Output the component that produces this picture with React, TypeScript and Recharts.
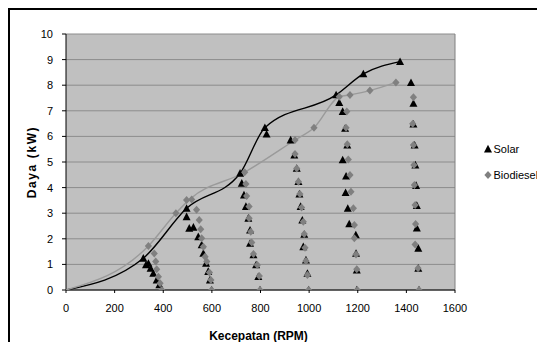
import React from 'react';
import {
  ScatterChart, Scatter, XAxis, YAxis, CartesianGrid, Legend, ReferenceLine,
} from 'recharts';

// ---------- data ----------
const xTicks = [0, 200, 400, 600, 800, 1000, 1200, 1400, 1600];
const yTicks = [0, 1, 2, 3, 4, 5, 6, 7, 8, 9, 10];
const seriesNames = ['Solar', 'Biodiesel'];

// Solar measured points (rpm, kW)
const solarRpm = [
  318, 329, 339, 348, 359, 373, 384, 394,
  496, 496, 507, 524, 544, 558, 565, 576, 585, 592, 599,
  716, 723, 732, 740, 750, 757, 757, 771, 782, 791, 798,
  818, 825, 924, 939, 949, 956, 960, 965, 972, 980, 976, 987, 993, 998,
  1111, 1124, 1138, 1148, 1157, 1138, 1152, 1150, 1159, 1165, 1192, 1193, 1196, 1196,
  1223, 1374,
  1419, 1429, 1429, 1434, 1437, 1440, 1443, 1443, 1449, 1449, 1452,
];
const solarKw = [
  1.24, 0.98, 1.04, 0.85, 0.65, 0.39, 0.2, 0,
  3.19, 2.86, 2.41, 2.45, 2.08, 1.76, 1.43, 1.04, 0.72, 0.39, 0,
  4.56, 4.17, 3.71, 3.26, 2.8, 2.34, 1.82, 1.37, 0.98, 0.52, 0,
  6.34, 6.09, 5.86, 5.27, 4.75, 4.23, 3.75, 3.26, 2.73, 2.17, 1.69, 1.17, 0.65, 0,
  7.62, 7.32, 6.97, 6.31, 5.66, 5.08, 4.45, 3.8, 3.19, 2.58, 2.15, 1.43, 0.78, 0,
  8.44, 8.92,
  8.1, 7.29, 6.48, 5.66, 4.88, 4.08, 3.3, 2.42, 1.63, 0.85, 0,
];

// Biodiesel measured points (rpm, kW)
const bioRpm = [
  339, 363, 369, 373, 380, 387, 394,
  452,
  496, 517, 537, 548, 554, 558, 565, 572, 579, 590, 596, 599,
  735, 740, 743, 753, 753, 760, 764, 771, 787, 795, 798,
  942, 942, 949, 956, 962, 969, 976, 980, 983, 987, 993, 998,
  1020, 1124, 1168, 1250, 1357,
  1155, 1152, 1157, 1161, 1168, 1172, 1182, 1186, 1186, 1193, 1196, 1198,
  1429, 1426, 1429, 1431, 1433, 1436, 1438, 1436, 1448, 1452,
];
const bioKw = [
  1.72, 1.43, 1.11, 0.81, 0.52, 0.26, 0,
  3.0,
  3.52, 3.54, 3.13, 2.73, 2.37, 2.02, 1.69, 1.3, 1.11, 0.68, 0.39, 0,
  4.6, 4.14, 3.67, 3.26, 2.8, 2.28, 1.86, 1.41, 0.98, 0.55, 0,
  5.86, 5.31, 4.75, 4.23, 3.75, 3.22, 2.67, 2.19, 1.65, 1.13, 0.59, 0,
  6.34, 7.55, 7.62, 7.79, 8.11,
  6.97, 6.34, 5.69, 5.1, 4.49, 3.84, 3.19, 2.54, 2.02, 1.39, 0.81, 0,
  7.53, 6.49, 5.66, 4.88, 4.1, 3.32, 2.58, 1.78, 0.85, 0,
];

// smoothed envelope curves (rpm, kW)
const solarCurveRpm = [0, 318, 496, 716, 818, 1111, 1223, 1374];
const solarCurveKw = [0, 1.24, 3.19, 4.56, 6.34, 7.62, 8.44, 8.92];
const bioCurveRpm = [0, 339, 452, 510, 735, 942, 1020, 1124, 1168, 1250, 1357];
const bioCurveKw = [0, 1.72, 3.0, 3.55, 4.6, 5.86, 6.34, 7.55, 7.62, 7.79, 8.11];

const zip = (xs: number[], ys: number[]) => xs.map((x, i) => ({ x, y: ys[i] }));
const solarData = zip(solarRpm, solarKw);
const bioData = zip(bioRpm, bioKw);
const solarCurve = zip(solarCurveRpm, solarCurveKw);
const bioCurve = zip(bioCurveRpm, bioCurveKw);

// ---------- styles ----------
const FONT = 'Arial, "Liberation Sans", sans-serif';
const BLACK = '#000000';
const GREY_MARK = '#808080';
const GREY_LINE = '#9a9a9a';

const Triangle = (props: any) => {
  const { cx, cy } = props;
  if (cx == null || cy == null) return <g />;
  return (
    <polygon
      points={`${cx},${cy - 4.2} ${cx + 4},${cy + 3.4} ${cx - 4},${cy + 3.4}`}
      fill={BLACK}
    />
  );
};

const Diamond = (props: any) => {
  const { cx, cy } = props;
  if (cx == null || cy == null) return <g />;
  return (
    <polygon
      points={`${cx},${cy - 4} ${cx + 3.6},${cy} ${cx},${cy + 4} ${cx - 3.6},${cy}`}
      fill={GREY_MARK}
    />
  );
};

const NoDot = () => <g />;

const LegendContent = () => (
  <svg width={60} height={44} style={{ display: 'block', overflow: 'visible' }}>
    <Triangle cx={6} cy={7} />
    <text x={11.5} y={11} fontSize={11} fontFamily={FONT} fill="#000">{seriesNames[0]}</text>
    <Diamond cx={6} cy={33} />
    <text x={11.5} y={37} fontSize={11} fontFamily={FONT} fill="#000">{seriesNames[1]}</text>
  </svg>
);

const YTitle = (props: any) => {
  const vb = props.viewBox || { x: 0, y: 0, width: 0, height: 0 };
  const cx = vb.x + 22;
  const cy = vb.y + vb.height / 2;
  return (
    <text
      x={cx}
      y={cy}
      transform={`rotate(-90, ${cx}, ${cy})`}
      textAnchor="middle"
      dominantBaseline="central"
      fontSize={12}
      fontWeight="bold"
      letterSpacing={1.6}
      fontFamily={FONT}
      fill="#000"
    >
      Daya (kW)
    </text>
  );
};

const XTitle = (props: any) => {
  const vb = props.viewBox || { x: 0, y: 0, width: 0, height: 0 };
  return (
    <text
      x={vb.x + vb.width / 2 - 2}
      y={vb.y + 50}
      textAnchor="middle"
      fontSize={12}
      fontWeight="bold"
      fontFamily={FONT}
      fill="#000"
    >
      Kecepatan (RPM)
    </text>
  );
};

export default function App() {
  return (
    <div
      style={{
        width: 535,
        height: 348,
        borderTop: '2px solid #000',
        borderLeft: '2px solid #000',
        background: '#fff',
        position: 'relative',
        marginBottom: -16,
      }}
    >
      <ScatterChart
        width={535}
        height={348}
        margin={{ top: 24, right: 90, bottom: 38, left: 0 }}
        style={{ fontFamily: FONT }}
      >
        <CartesianGrid
          vertical={false}
          stroke="#8c8c8c"
          strokeWidth={1}
          fill="#c0c0c0"
          fillOpacity={1}
        />
        <XAxis
          type="number"
          dataKey="x"
          domain={[0, 1600]}
          ticks={xTicks}
          interval={0}
          allowDataOverflow
          stroke={BLACK}
          tickSize={3}
          tickMargin={11}
          tick={{ fontSize: 11, fill: '#000', fontFamily: FONT }}
          height={30}
          label={{ content: XTitle }}
        />
        <YAxis
          type="number"
          dataKey="y"
          domain={[0, 10]}
          ticks={yTicks}
          interval={0}
          allowDataOverflow
          stroke={BLACK}
          tickSize={4}
          tickMargin={9}
          width={56}
          tick={{ fontSize: 11, fill: '#000', fontFamily: FONT }}
          label={{ content: YTitle }}
        />
        <ReferenceLine x={1600} stroke="#808080" strokeWidth={1} ifOverflow="extendDomain" />
        <Scatter
          name="solar-curve"
          data={solarCurve}
          line={{ stroke: BLACK, strokeWidth: 1.4 }}
          lineType="joint"
          lineJointType="monotoneX"
          shape={NoDot}
          legendType="none"
          isAnimationActive={false}
        />
        <Scatter
          name="bio-curve"
          data={bioCurve}
          line={{ stroke: GREY_LINE, strokeWidth: 1.4 }}
          lineType="joint"
          lineJointType="monotoneX"
          shape={NoDot}
          legendType="none"
          isAnimationActive={false}
        />
        <Scatter
          name={seriesNames[0]}
          data={solarData}
          shape={Triangle}
          fill={BLACK}
          isAnimationActive={false}
        />
        <Scatter
          name={seriesNames[1]}
          data={bioData}
          shape={Diamond}
          fill={GREY_MARK}
          isAnimationActive={false}
        />
        <Legend
          layout="vertical"
          align="center"
          verticalAlign="middle"
          content={LegendContent}
          wrapperStyle={{ left: 472, top: 132, width: 60, height: 44 }}
        />
      </ScatterChart>
    </div>
  );
}
